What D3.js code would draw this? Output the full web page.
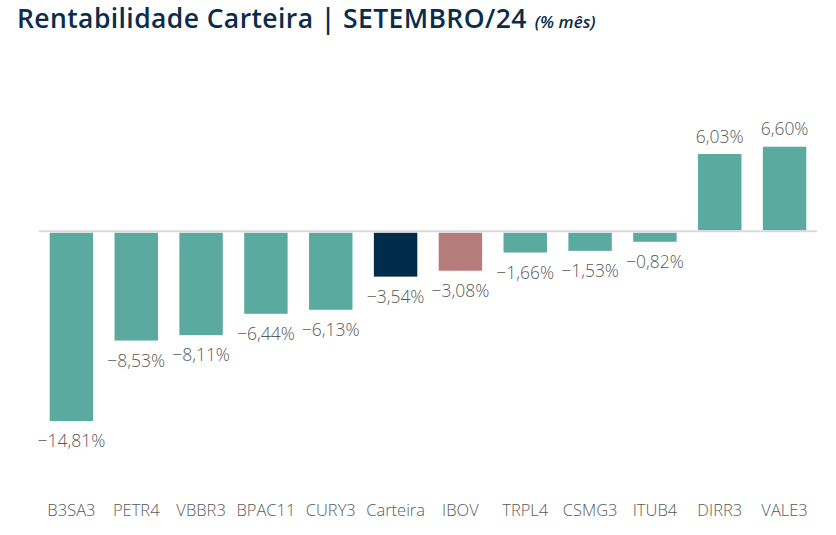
<!DOCTYPE html>
<html lang="pt">
<head>
<meta charset="utf-8">
<title>Rentabilidade Carteira | SETEMBRO/24</title>
<script src="https://cdn.jsdelivr.net/npm/d3@7"></script>
<style>
  body { margin: 0; background: #fff; }
  .title { font-family: "Open Sans", sans-serif; font-weight: 650; font-size: 26.5px; letter-spacing: 0.4px; fill: #0b2d4b; }
  .sub { font-family: "Open Sans", sans-serif; font-style: italic; font-weight: 600; font-size: 17px; fill: #0b2d4b; }
  .val { font-family: "Open Sans", sans-serif; font-weight: 300; font-size: 17.5px; fill: #595959; text-anchor: middle; }
  .cat text { font-family: "Open Sans", sans-serif; font-weight: 300; font-size: 16.5px; fill: #595959; }
</style>
</head>
<body>
<script>
var categories = ["B3SA3", "PETR4", "VBBR3", "BPAC11", "CURY3", "Carteira", "IBOV", "TRPL4", "CSMG3", "ITUB4", "DIRR3", "VALE3"];
var values = [-14.81, -8.53, -8.11, -6.44, -6.13, -3.54, -3.08, -1.66, -1.53, -0.82, 6.03, 6.60];
var kinds = ["acao", "acao", "acao", "acao", "acao", "carteira", "ibov", "acao", "acao", "acao", "acao", "acao"];

var w = 836, h = 535;
var colors = { acao: "#5baa9f", carteira: "#002b49", ibov: "#b47c7b" };

var svg = d3.select("body").append("svg").attr("width", w).attr("height", h);

var x = d3.scaleBand().domain(categories).range([39, 817]).paddingInner(0.33).paddingOuter(0.165);
var y = d3.scaleLinear().domain([-14.81, 6.60]).range([421, 146.7]);

var fmt = function(v) { return (v < 0 ? "\u2212" : "") + Math.abs(v).toFixed(2).replace(".", ",") + "%"; };

// title
var t = svg.append("text").attr("x", 17).attr("y", 28).attr("class", "title").text("Rentabilidade Carteira | SETEMBRO/24");
svg.append("text").attr("x", 17 + t.node().getComputedTextLength() + 8).attr("y", 28).attr("class", "sub").text("(% mês)");

// bars
svg.selectAll(".bar").data(values).enter().append("rect")
  .attr("class", "bar")
  .attr("x", function(d, i) { return x(categories[i]); })
  .attr("width", x.bandwidth())
  .attr("y", function(d) { return d < 0 ? y(0) + 1.5 : y(d); })
  .attr("height", function(d) { return d < 0 ? y(d) - y(0) - 1.5 : y(0) - y(d) - 1; })
  .attr("fill", function(d, i) { return colors[kinds[i]]; });

// zero line
svg.append("line").attr("x1", 39).attr("x2", 817).attr("y1", y(0)).attr("y2", y(0))
  .attr("stroke", "#d9d9d9").attr("stroke-width", 2);

// value labels
svg.selectAll(".val").data(values).enter().append("text")
  .attr("class", "val")
  .attr("x", function(d, i) { return x(categories[i]) + x.bandwidth() / 2; })
  .attr("y", function(d) { return d < 0 ? y(d) + 26 : y(d) - 11.5; })
  .text(fmt);

// category axis
var ax = svg.append("g").attr("class", "cat").attr("transform", "translate(0,516)")
  .call(d3.axisBottom(x).tickSize(0).tickPadding(0));
ax.select(".domain").remove();
ax.selectAll("text").attr("dy", null);
</script>
</body>
</html>
